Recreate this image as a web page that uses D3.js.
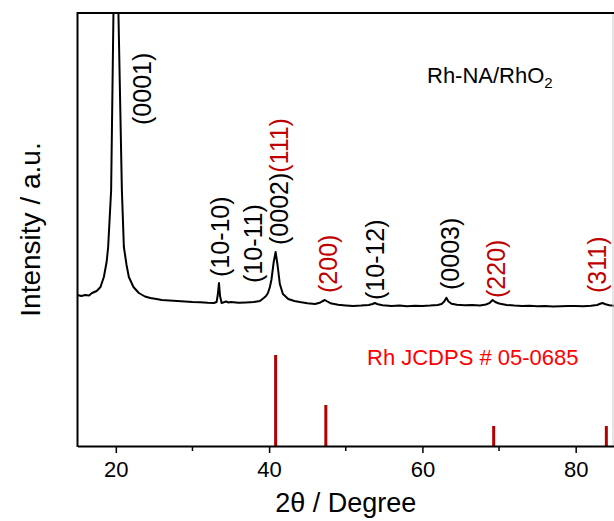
<!DOCTYPE html>
<html>
<head>
<meta charset="utf-8" />
<title>XRD Rh-NA/RhO2</title>
<style>
  body { margin: 0; background: #fff; }
  svg text { font-family: "Liberation Sans", Arial, sans-serif; }
</style>
</head>
<body>
<svg id="chart" width="614" height="521"></svg>
<script src="https://d3js.org/d3.v7.min.js"></script>
<script>
// measured pattern: 2theta (deg) and intensity (a.u.)
var twoTheta = [15.0, 15.5, 16.0, 16.5, 16.9, 17.5, 18.0, 18.44, 18.8, 19.0, 19.39, 19.69, 20.0, 20.34, 20.79, 21.05, 21.4, 21.7, 22.3, 23.0, 23.8, 24.5, 25.3, 26.0, 27.0, 28.0, 29.0, 30.0, 31.0, 32.0, 32.8, 33.15, 33.3, 33.46, 33.6, 33.8, 34.4, 34.7, 35.0, 36.0, 37.0, 38.0, 38.8, 39.3, 39.6, 39.85, 40.1, 40.3, 40.6, 40.85, 41.1, 41.4, 41.8, 42.5, 43.3, 44.0, 45.0, 46.0, 46.6, 46.9, 47.27, 47.6, 48.0, 49.0, 50.0, 51.0, 52.0, 53.0, 53.5, 53.79, 54.2, 54.8, 56.0, 57.0, 58.0, 59.0, 60.0, 61.0, 62.0, 62.5, 62.85, 63.13, 63.4, 63.8, 64.5, 65.5, 66.5, 67.5, 68.3, 68.8, 69.16, 69.5, 70.0, 71.0, 72.0, 73.0, 74.0, 75.0, 76.0, 77.0, 78.0, 79.0, 80.0, 81.0, 82.0, 82.8, 83.2, 83.5, 83.9, 84.4, 85.0];
var intensity = [1510, 1500, 1510, 1505, 1530, 1550, 1590, 1690, 1840, 1990, 2560, 4330, 9000, 4330, 2560, 1990, 1810, 1690, 1590, 1530, 1495, 1480, 1470, 1460, 1455, 1450, 1445, 1440, 1438, 1432, 1430, 1440, 1510, 1630, 1500, 1430, 1445, 1435, 1440, 1432, 1436, 1440, 1450, 1480, 1500, 1530, 1590, 1660, 1840, 1940, 1810, 1620, 1520, 1470, 1450, 1440, 1428, 1420, 1432, 1445, 1460, 1445, 1428, 1412, 1406, 1400, 1404, 1410, 1420, 1430, 1418, 1408, 1400, 1404, 1398, 1402, 1400, 1404, 1410, 1420, 1445, 1483, 1445, 1422, 1412, 1408, 1410, 1406, 1415, 1432, 1460, 1440, 1425, 1410, 1404, 1400, 1402, 1398, 1400, 1396, 1398, 1400, 1400, 1398, 1402, 1410, 1422, 1430, 1418, 1408, 1402];

// Rh reference sticks
var refPos = [40.85, 47.4, 69.3, 84.0];
var refInt = [910, 410, 200, 200];

// peak labels: centre position, bottom of text (a.u.), text, colour group
var labelPos = [23.4, 33.6, 37.9, 41.3, 47.7, 53.8, 63.6, 69.7, 82.8];
var labelBase = [3210, 1690, 1630, 2010, 1530, 1460, 1560, 1480, 1530];
var labelText = ["(0001)", "(10-10)", "(10-11)", "(0002)", "(200)", "(10-12)", "(0003)", "(220)", "(311)"];
var labelRed = [false, false, false, false, true, false, false, true, true];

var xTicks = [20, 40, 60, 80];
var xMinor = [30, 50, 70];

!(function() {
  "use strict"
  var svg = d3.select("#chart");
  var left = 77.5, right = 614, plotTop = 13, bottom = 446;

  var x = d3.scaleLinear().domain([15, 85]).range([left, right]);
  var y = d3.scaleLinear().domain([0, 4330]).range([bottom, plotTop]);

  svg.append("defs").append("clipPath").attr("id", "plotclip")
    .append("rect").attr("x", left).attr("y", plotTop)
    .attr("width", right - left).attr("height", bottom - plotTop);

  var pts = twoTheta.map(function(t, i) { return [t, intensity[i]]; });

  var line = d3.line()
    .x(function(d) { return x(d[0]); })
    .y(function(d) { return y(d[1]); });

  svg.append("path")
    .datum(pts)
    .attr("clip-path", "url(#plotclip)")
    .attr("fill", "none")
    .attr("stroke", "#000")
    .attr("stroke-width", 2)
    .attr("stroke-linejoin", "round")
    .attr("d", line);

  // reference sticks
  svg.append("g").selectAll("line")
    .data(refPos)
    .enter().append("line")
    .attr("x1", function(d) { return x(d); })
    .attr("x2", function(d) { return x(d); })
    .attr("y1", y(0))
    .attr("y2", function(d, i) { return y(refInt[i]); })
    .attr("stroke", "#b40000")
    .attr("stroke-width", 3);

  // frame
  svg.append("line").attr("x1", right - 1).attr("x2", right - 1).attr("y1", plotTop).attr("y2", bottom)
    .attr("stroke", "#ccc").attr("stroke-width", 1);
  svg.append("line").attr("x1", left).attr("x2", right).attr("y1", plotTop).attr("y2", plotTop)
    .attr("stroke", "#000").attr("stroke-width", 2);

  var xAxis = d3.axisBottom(x).tickValues(xTicks).tickSize(7).tickSizeOuter(0).tickPadding(8);
  var gx = svg.append("g").attr("transform", "translate(0," + bottom + ")").call(xAxis);
  gx.select(".domain").attr("stroke-width", 2);
  gx.selectAll(".tick line").attr("stroke-width", 1.5);
  gx.selectAll(".tick text").attr("font-size", 22).attr("fill", "#000")
    .style("font-family", "Liberation Sans, Arial, sans-serif");

  svg.append("g").selectAll("line")
    .data(xMinor)
    .enter().append("line")
    .attr("x1", function(d) { return x(d); })
    .attr("x2", function(d) { return x(d); })
    .attr("y1", bottom).attr("y2", bottom + 5)
    .attr("stroke", "#000").attr("stroke-width", 1.5);

  svg.append("line")
    .attr("x1", left).attr("x2", left).attr("y1", plotTop - 1).attr("y2", bottom + 1)
    .attr("stroke", "#000").attr("stroke-width", 2);

  // axis titles
  svg.append("text")
    .attr("x", (left + right) / 2).attr("y", 512)
    .attr("text-anchor", "middle").attr("font-size", 27)
    .text("2\u03b8 / Degree");

  svg.append("text")
    .attr("transform", "translate(40," + ((plotTop + bottom) / 2) + ") rotate(-90)")
    .attr("text-anchor", "middle").attr("font-size", 28)
    .text("Intensity / a.u.");

  // peak labels
  var lab = svg.append("g").selectAll("text")
    .data(labelText)
    .enter().append("text")
    .attr("transform", function(d, i) {
      return "translate(" + x(labelPos[i]) + "," + y(labelBase[i]) + ") rotate(-90)";
    })
    .attr("dy", "0.35em")
    .attr("font-size", 25)
    .attr("fill", function(d, i) { return labelRed[i] ? "#c00000" : "#000"; })
    .text(function(d) { return d; });

  // (111) stacked after (0002)
  lab.filter(function(d) { return d === "(0002)"; })
    .append("tspan").attr("fill", "#c00000").text("(111)");

  // sample name
  var nm = svg.append("text").attr("x", 427).attr("y", 83).attr("font-size", 22);
  nm.append("tspan").text("Rh-NA/RhO");
  nm.append("tspan").attr("font-size", 15).attr("dy", 5).text("2");

  svg.append("text").attr("x", 367).attr("y", 365).attr("font-size", 22)
    .attr("fill", "#ff0000").text("Rh JCDPS # 05-0685");
}());
</script>
</body>
</html>
